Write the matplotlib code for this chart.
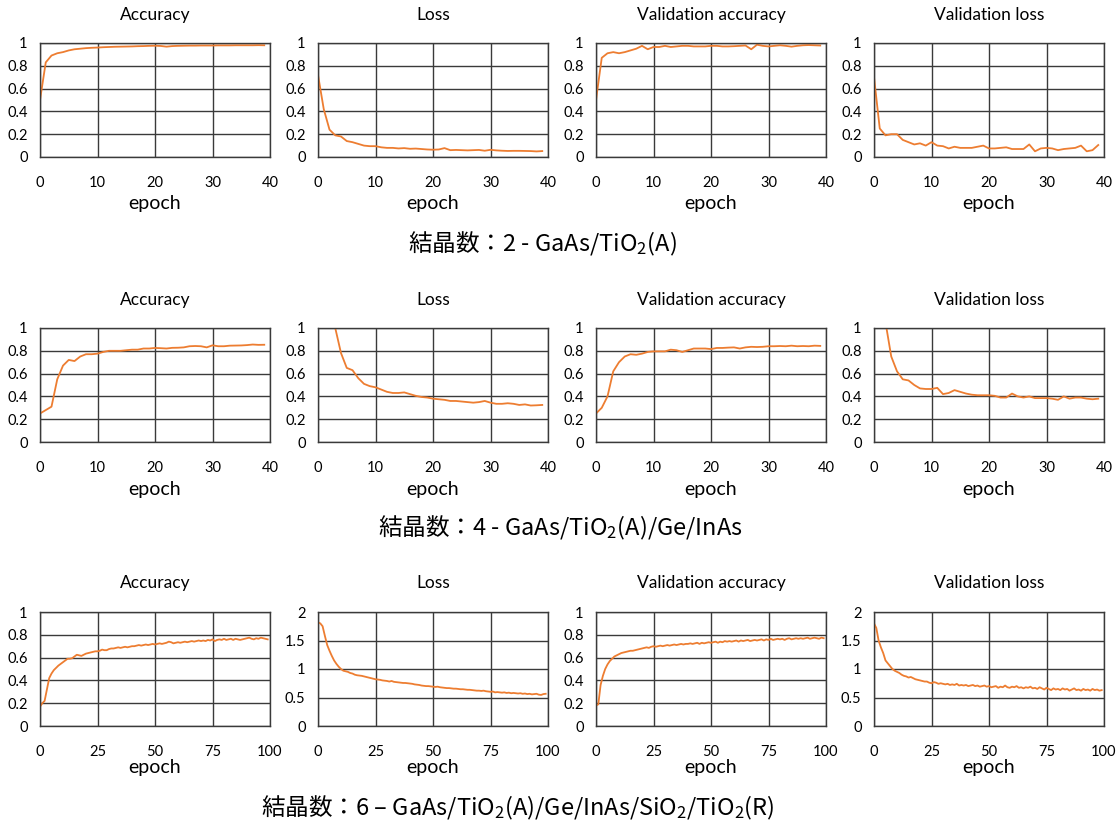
import matplotlib
matplotlib.use("Agg")
import matplotlib.pyplot as plt
from matplotlib.ticker import FuncFormatter, MultipleLocator

plt.rcParams["font.family"] = ["Lato", "Noto Sans CJK JP", "DejaVu Sans"]
# captions mix kanji with subscripts, so mathtext needs a CJK-capable font
plt.rcParams["mathtext.fontset"] = "custom"
plt.rcParams["mathtext.rm"] = "Noto Sans CJK JP"
plt.rcParams["mathtext.default"] = "regular"

# ---- training histories ----
# 2 crystals, 40 epochs
acc_2 = [0.50, 0.83, 0.89, 0.91, 0.92, 0.935, 0.945, 0.95, 0.955, 0.958,
         0.96, 0.963, 0.965, 0.967, 0.968, 0.969, 0.97, 0.972, 0.973, 0.975,
         0.976, 0.974, 0.968, 0.973, 0.975, 0.976, 0.977, 0.977, 0.978, 0.978,
         0.978, 0.979, 0.979, 0.979, 0.98, 0.98, 0.98, 0.98, 0.981, 0.98]
loss_2 = [0.72, 0.42, 0.24, 0.19, 0.18, 0.14, 0.13, 0.115, 0.10, 0.095,
          0.095, 0.085, 0.08, 0.08, 0.075, 0.078, 0.072, 0.074, 0.07, 0.066,
          0.064, 0.066, 0.078, 0.06, 0.062, 0.06, 0.058, 0.06, 0.062, 0.055,
          0.063, 0.058, 0.055, 0.053, 0.054, 0.054, 0.053, 0.052, 0.049, 0.052]
val_acc_2 = [0.50, 0.87, 0.91, 0.92, 0.91, 0.92, 0.935, 0.95, 0.975, 0.945,
             0.965, 0.965, 0.975, 0.965, 0.97, 0.975, 0.975, 0.97, 0.97, 0.97,
             0.975, 0.975, 0.97, 0.97, 0.972, 0.975, 0.978, 0.945, 0.985, 0.975,
             0.97, 0.975, 0.98, 0.975, 0.968, 0.975, 0.98, 0.982, 0.98, 0.978]
val_loss_2 = [0.70, 0.25, 0.19, 0.20, 0.20, 0.15, 0.13, 0.11, 0.12, 0.10,
              0.13, 0.10, 0.095, 0.075, 0.09, 0.08, 0.08, 0.08, 0.09, 0.10,
              0.075, 0.075, 0.08, 0.085, 0.07, 0.07, 0.07, 0.11, 0.05, 0.075,
              0.08, 0.075, 0.06, 0.07, 0.075, 0.08, 0.10, 0.05, 0.06, 0.105]

# 4 crystals, 40 epochs
acc_4 = [0.25, 0.28, 0.31, 0.55, 0.67, 0.72, 0.71, 0.75, 0.77, 0.77,
         0.775, 0.79, 0.80, 0.80, 0.80, 0.805, 0.81, 0.81, 0.82, 0.82,
         0.825, 0.823, 0.82, 0.826, 0.827, 0.83, 0.84, 0.842, 0.84, 0.83,
         0.848, 0.84, 0.84, 0.845, 0.846, 0.847, 0.85, 0.855, 0.852, 0.853]
loss_4 = [1.60, 1.35, 1.25, 1.00, 0.78, 0.65, 0.63, 0.56, 0.51, 0.49,
          0.48, 0.46, 0.44, 0.43, 0.43, 0.435, 0.42, 0.405, 0.395, 0.39,
          0.38, 0.375, 0.37, 0.36, 0.36, 0.355, 0.35, 0.345, 0.35, 0.36,
          0.345, 0.335, 0.335, 0.34, 0.335, 0.325, 0.33, 0.32, 0.322, 0.325]
val_acc_4 = [0.25, 0.30, 0.40, 0.62, 0.70, 0.75, 0.77, 0.765, 0.775, 0.79,
             0.795, 0.795, 0.795, 0.81, 0.805, 0.79, 0.805, 0.82, 0.82, 0.82,
             0.815, 0.825, 0.825, 0.828, 0.83, 0.82, 0.83, 0.835, 0.833, 0.835,
             0.84, 0.84, 0.842, 0.84, 0.845, 0.84, 0.842, 0.84, 0.845, 0.843]
val_loss_4 = [1.50, 1.25, 1.05, 0.75, 0.62, 0.55, 0.54, 0.50, 0.47, 0.465,
              0.465, 0.475, 0.42, 0.43, 0.455, 0.44, 0.425, 0.415, 0.41, 0.41,
              0.41, 0.405, 0.39, 0.39, 0.425, 0.40, 0.39, 0.40, 0.385, 0.385,
              0.385, 0.38, 0.37, 0.40, 0.38, 0.39, 0.39, 0.38, 0.375, 0.38]

# 6 crystals, 100 epochs
acc_6 = [0.17, 0.20, 0.22, 0.32, 0.42, 0.46, 0.49, 0.51, 0.53, 0.545,
         0.56, 0.575, 0.59, 0.59, 0.595, 0.61, 0.625, 0.62, 0.615, 0.625,
         0.635, 0.64, 0.645, 0.65, 0.655, 0.655, 0.66, 0.67, 0.665, 0.665,
         0.675, 0.68, 0.68, 0.685, 0.69, 0.685, 0.69, 0.695, 0.69, 0.695,
         0.70, 0.70, 0.705, 0.71, 0.705, 0.71, 0.715, 0.71, 0.715, 0.72,
         0.715, 0.72, 0.725, 0.72, 0.725, 0.73, 0.74, 0.735, 0.725, 0.73,
         0.735, 0.73, 0.735, 0.74, 0.735, 0.74, 0.745, 0.74, 0.745, 0.75,
         0.745, 0.75, 0.745, 0.755, 0.75, 0.76, 0.745, 0.755, 0.76, 0.755,
         0.765, 0.755, 0.76, 0.765, 0.755, 0.765, 0.76, 0.755, 0.76, 0.765,
         0.77, 0.775, 0.765, 0.76, 0.77, 0.765, 0.775, 0.77, 0.765, 0.76]
loss_6 = [1.82, 1.80, 1.75, 1.58, 1.42, 1.32, 1.23, 1.15, 1.09, 1.04,
          1.00, 0.97, 0.96, 0.95, 0.93, 0.92, 0.90, 0.89, 0.885, 0.88,
          0.87, 0.86, 0.85, 0.84, 0.83, 0.82, 0.815, 0.81, 0.80, 0.795,
          0.79, 0.78, 0.79, 0.775, 0.77, 0.765, 0.76, 0.755, 0.755, 0.75,
          0.745, 0.74, 0.73, 0.725, 0.72, 0.71, 0.705, 0.70, 0.70, 0.695,
          0.69, 0.685, 0.69, 0.68, 0.675, 0.67, 0.665, 0.665, 0.66, 0.655,
          0.655, 0.65, 0.645, 0.645, 0.64, 0.635, 0.635, 0.63, 0.625, 0.62,
          0.62, 0.615, 0.62, 0.61, 0.605, 0.60, 0.605, 0.59, 0.595, 0.59,
          0.585, 0.59, 0.58, 0.585, 0.575, 0.58, 0.575, 0.57, 0.575, 0.565,
          0.57, 0.56, 0.565, 0.555, 0.56, 0.565, 0.55, 0.545, 0.56, 0.565]
val_acc_6 = [0.18, 0.19, 0.36, 0.44, 0.50, 0.54, 0.57, 0.59, 0.61, 0.62,
             0.63, 0.64, 0.645, 0.65, 0.655, 0.66, 0.66, 0.665, 0.67, 0.675,
             0.68, 0.685, 0.69, 0.685, 0.695, 0.70, 0.695, 0.70, 0.705, 0.70,
             0.705, 0.71, 0.705, 0.71, 0.715, 0.71, 0.715, 0.72, 0.715, 0.72,
             0.72, 0.725, 0.72, 0.725, 0.73, 0.72, 0.73, 0.725, 0.73, 0.735,
             0.73, 0.735, 0.74, 0.73, 0.74, 0.735, 0.745, 0.74, 0.745, 0.74,
             0.745, 0.75, 0.74, 0.75, 0.745, 0.75, 0.755, 0.745, 0.75, 0.755,
             0.75, 0.755, 0.76, 0.75, 0.76, 0.755, 0.765, 0.755, 0.76, 0.765,
             0.76, 0.765, 0.755, 0.765, 0.77, 0.76, 0.765, 0.77, 0.765, 0.77,
             0.765, 0.77, 0.775, 0.765, 0.77, 0.775, 0.77, 0.765, 0.775, 0.77]
val_loss_6 = [1.80, 1.72, 1.50, 1.38, 1.28, 1.15, 1.10, 1.05, 1.00, 0.97,
              0.95, 0.93, 0.90, 0.88, 0.87, 0.85, 0.86, 0.84, 0.82, 0.81,
              0.80, 0.79, 0.78, 0.78, 0.76, 0.75, 0.77, 0.76, 0.74, 0.75,
              0.74, 0.73, 0.74, 0.72, 0.73, 0.72, 0.74, 0.71, 0.72, 0.71,
              0.72, 0.70, 0.71, 0.72, 0.70, 0.71, 0.69, 0.70, 0.71, 0.69,
              0.70, 0.68, 0.69, 0.70, 0.67, 0.69, 0.68, 0.71, 0.68, 0.67,
              0.69, 0.68, 0.70, 0.67, 0.68, 0.66, 0.68, 0.67, 0.69, 0.66,
              0.67, 0.65, 0.68, 0.66, 0.64, 0.67, 0.65, 0.63, 0.66, 0.64,
              0.65, 0.63, 0.66, 0.64, 0.65, 0.62, 0.64, 0.66, 0.63, 0.64,
              0.62, 0.65, 0.63, 0.64, 0.62, 0.65, 0.63, 0.64, 0.62, 0.63]

panel_titles = ["Accuracy", "Loss", "Validation accuracy", "Validation loss"]
captions = [
    "結晶数：2 - GaAs/TiO$_2$(A)",
    "結晶数：4 - GaAs/TiO$_2$(A)/Ge/InAs",
    "結晶数：6 – GaAs/TiO$_2$(A)/Ge/InAs/SiO$_2$/TiO$_2$(R)",
]
rows = [
    [acc_2, loss_2, val_acc_2, val_loss_2],
    [acc_4, loss_4, val_acc_4, val_loss_4],
    [acc_6, loss_6, val_acc_6, val_loss_6],
]
xmax = [40, 40, 100]
xstep = [10, 10, 25]
ymax = [[1, 1, 1, 1], [1, 1, 1, 1], [1, 2, 1, 2]]

# layout in pixels
W, H = 1116, 832
lefts = [40, 318, 596, 874]
tops = [43, 328, 612]
ax_w, ax_h = 230, 114
title_y = [15, 300, 583]
xlabel_y = [204, 489, 767]
caption_x = [542, 560, 518]
caption_y = [244, 528, 808]

orange = "#ED7D31"
gridc = "#3a3a3a"
fmt = FuncFormatter(lambda v, _: f"{v:g}")

fig = plt.figure(figsize=(W / 100, H / 100), dpi=100)

for r, series in enumerate(rows):
    for c, ys in enumerate(series):
        ax = fig.add_axes([lefts[c] / W, 1 - (tops[r] + ax_h) / H, ax_w / W, ax_h / H])
        ax.plot(range(len(ys)), ys, color=orange, linewidth=1.3)
        ax.set_xlim(0, xmax[r])
        ax.set_ylim(0, ymax[r][c])
        ax.xaxis.set_major_locator(MultipleLocator(xstep[r]))
        ax.yaxis.set_major_locator(MultipleLocator(0.2 if ymax[r][c] == 1 else 0.5))
        ax.xaxis.set_major_formatter(fmt)
        ax.yaxis.set_major_formatter(fmt)
        ax.grid(True, color=gridc, linewidth=1.0)
        ax.set_axisbelow(True)
        for s in ax.spines.values():
            s.set_color(gridc)
            s.set_linewidth(1.0)
        ax.tick_params(length=0, labelsize=10.5, colors="#000000")
        ax.tick_params(axis="x", pad=14)
        ax.tick_params(axis="y", pad=9)
        cx = (lefts[c] + ax_w / 2) / W
        fig.text(cx, 1 - title_y[r] / H, panel_titles[c], ha="center", va="center",
                 fontsize=12.5)
        fig.text(cx, 1 - xlabel_y[r] / H, "epoch", ha="center", va="center",
                 fontsize=14)
    fig.text(caption_x[r] / W, 1 - caption_y[r] / H, captions[r], ha="center",
             va="center", fontsize=17, family="Noto Sans CJK JP")

fig.savefig("out.png", dpi=100)
